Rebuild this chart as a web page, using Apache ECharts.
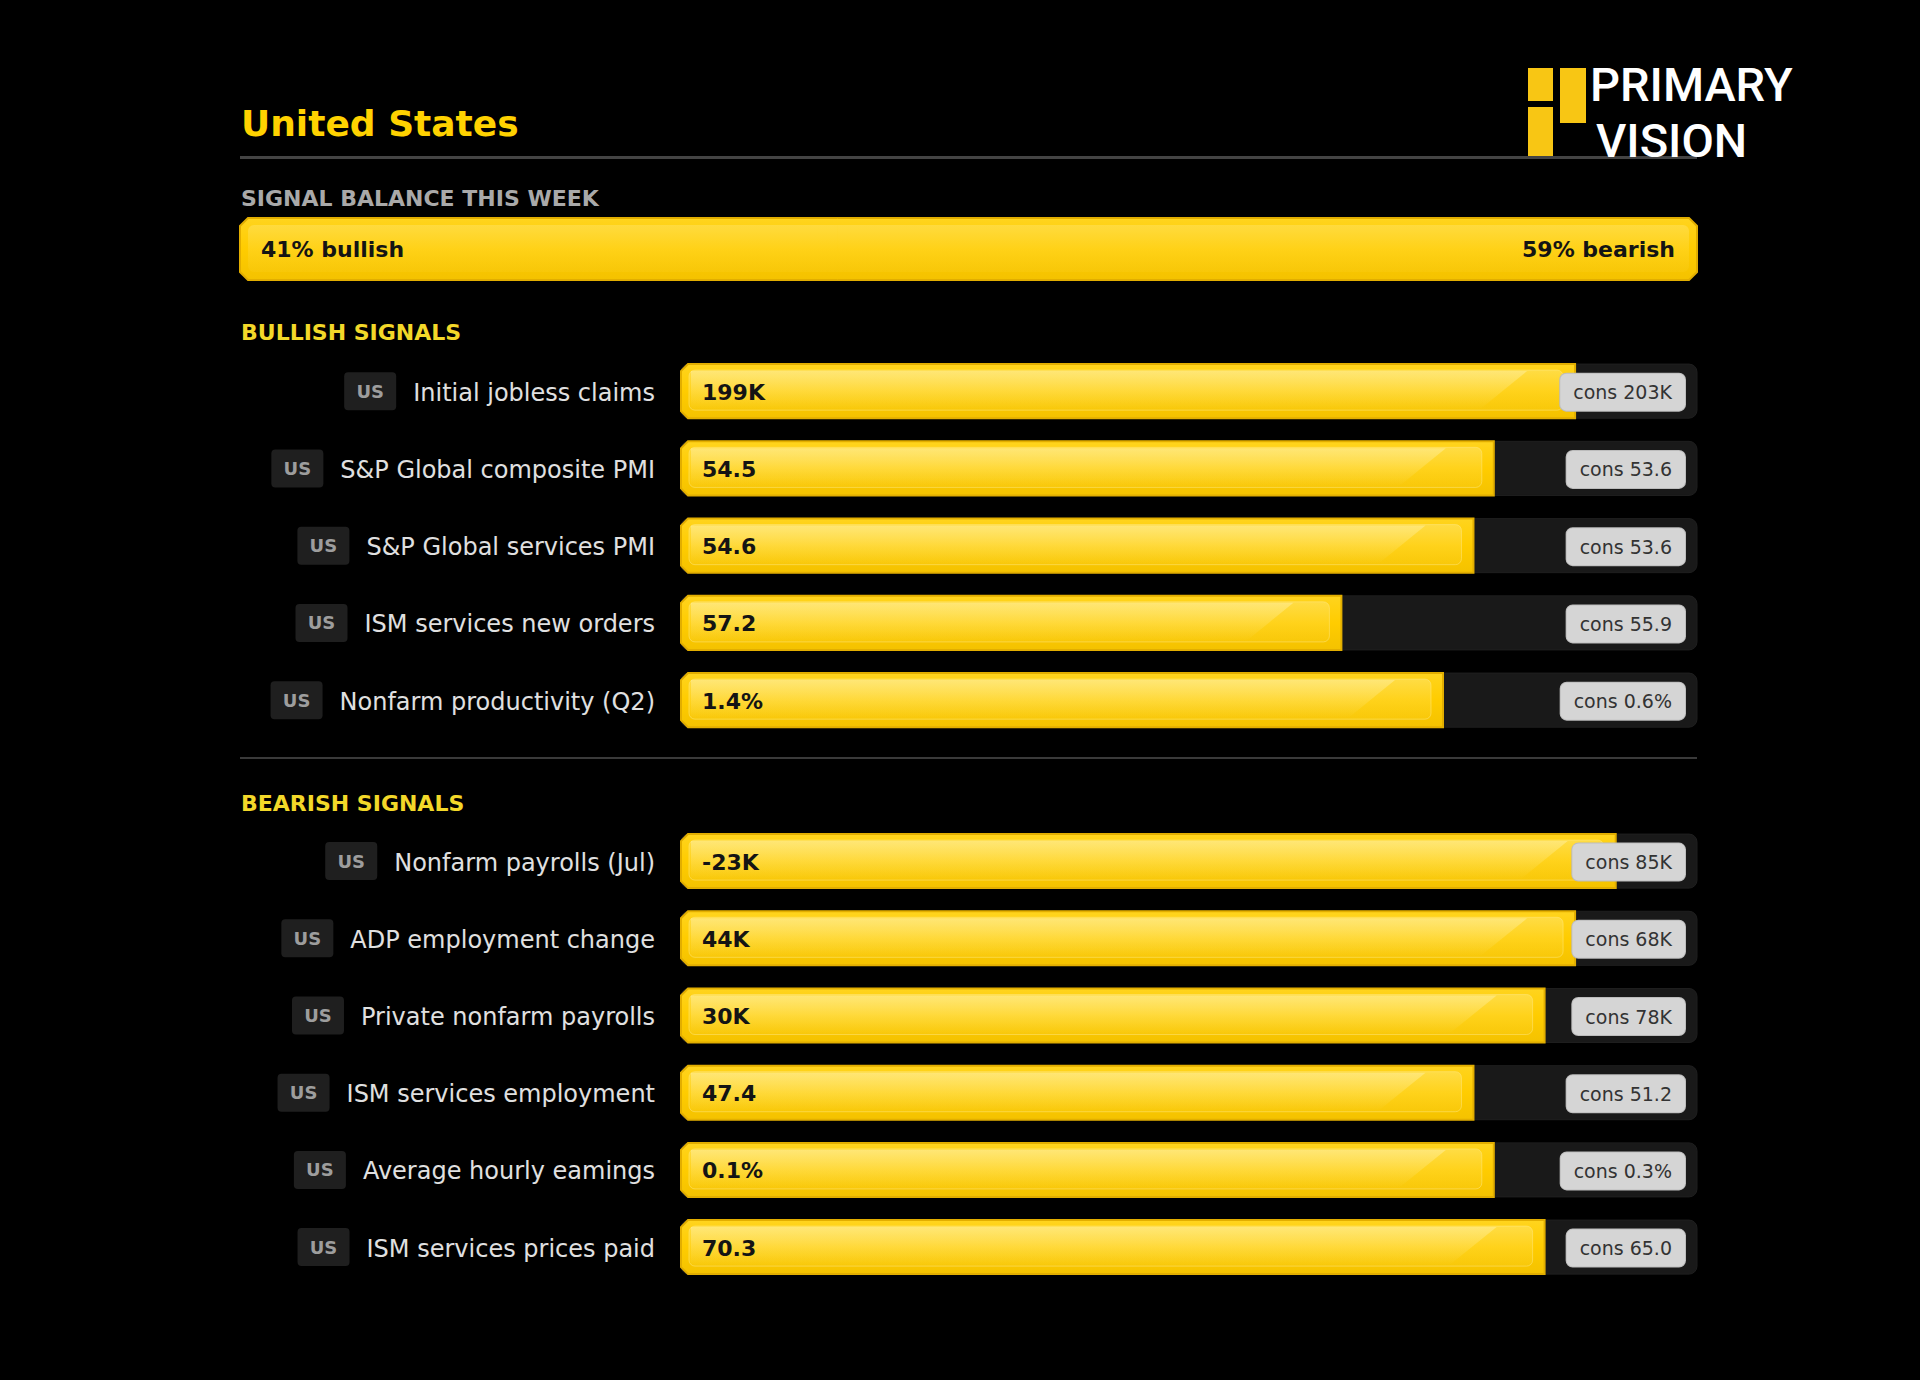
<!DOCTYPE html>
<html>
<head>
<meta charset="utf-8">
<script src="https://cdn.jsdelivr.net/npm/echarts@6/dist/echarts.min.js"></script>
<style>
html,body{margin:0;padding:0;background:#000;}
#chart{width:1920px;height:1380px;}
</style>
</head>
<body>
<div id="chart"></div>
<script>
// ---------- data ----------
const countryCode = 'US';
const balance = [41, 59];            // % bullish, % bearish
const balanceLabels = ['bullish', 'bearish'];

const bullLabels = ['Initial jobless claims', 'S&P Global composite PMI', 'S&P Global services PMI', 'ISM services new orders', 'Nonfarm productivity (Q2)'];
const bullActual = ['199K', '54.5', '54.6', '57.2', '1.4%'];
const bullCons = ['cons 203K', 'cons 53.6', 'cons 53.6', 'cons 55.9', 'cons 0.6%'];
const bullStrength = [88, 80, 78, 65, 75];

const bearLabels = ['Nonfarm payrolls (Jul)', 'ADP employment change', 'Private nonfarm payrolls', 'ISM services employment', 'Average hourly eamings', 'ISM services prices paid'];
const bearActual = ['-23K', '44K', '30K', '47.4', '0.1%', '70.3'];
const bearCons = ['cons 85K', 'cons 68K', 'cons 78K', 'cons 51.2', 'cons 0.3%', 'cons 65.0'];
const bearStrength = [92, 88, 85, 78, 80, 85];

// ---------- styling helpers ----------
const FONT = 'DejaVu Sans';
const yellowGrad = {type: 'linear', x: 0, y: 0, x2: 0, y2: 1, colorStops: [
  {offset: 0, color: '#FFD41E'}, {offset: 0.5, color: '#FFCC00'}, {offset: 1, color: '#F4C200'}]};
const innerGrad = {type: 'linear', x: 0, y: 0, x2: 0, y2: 1, colorStops: [
  {offset: 0, color: 'rgba(255,236,140,0.55)'}, {offset: 1, color: 'rgba(255,225,90,0.15)'}]};
const shineGrad = {type: 'linear', x: 0, y: 0, x2: 0, y2: 1, colorStops: [
  {offset: 0, color: 'rgba(255,250,210,0.35)'}, {offset: 1, color: 'rgba(255,250,210,0.0)'}]};

function makeSignalRender(actualArr, consArr) {
  return function (params, api) {
    const idx = api.value(0);
    const v = api.value(1);
    const band = api.size([0, 1])[1];
    const h = band * 0.7;
    const p0 = api.coord([0, idx]);
    const p1 = api.coord([v, idx]);
    const pm = api.coord([100, idx]);
    const x0 = p0[0], x1 = p1[0], xm = pm[0], yc = p0[1];
    const y0 = yc - h / 2, y1 = yc + h / 2;
    const c = 7;
    return {
      type: 'group',
      children: [
        {type: 'rect', shape: {x: x0, y: y0, width: xm - x0, height: h, r: 8},
          style: {fill: '#191919', stroke: '#1f1f1f', lineWidth: 1}},
        {type: 'polygon', shape: {points: [[x0 + c, y0], [x1, y0], [x1, y1], [x0 + c, y1], [x0, y1 - c], [x0, y0 + c]]},
          style: {fill: yellowGrad, stroke: '#E2AE00', lineWidth: 2}},
        {type: 'rect', shape: {x: x0 + 8, y: y0 + 6, width: Math.max(0, x1 - x0 - 20), height: h - 14, r: 6},
          style: {fill: innerGrad, stroke: 'rgba(255,232,130,0.7)', lineWidth: 1, opacity: 0.7}},
        {type: 'polygon', shape: {points: [[x0 + 10, y0 + 7], [x1 - 48, y0 + 7], [x1 - 95, y1 - 9], [x0 + 10, y1 - 9]]},
          style: {fill: shineGrad}},
        {type: 'text', style: {x: x0 + 21, y: yc + 1, text: actualArr[params.dataIndex], fill: '#141414',
          font: 'bold 22px "' + FONT + '"', align: 'left', verticalAlign: 'middle'}},
        {type: 'text', style: {x: xm - 12, y: yc + 1, text: consArr[params.dataIndex], fill: '#333',
          font: '19px "' + FONT + '"', align: 'right', verticalAlign: 'middle', lineHeight: 19,
          backgroundColor: '#d5d5d5', borderColor: '#bcbcbc', borderWidth: 1, borderRadius: 6, padding: [9, 13, 9, 13]}}
      ]
    };
  };
}

function renderBalance(params, api) {
  const i = params.dataIndex;
  const s = api.value(1), e = api.value(2);
  const band = api.size([0, 1])[1];
  const h = band;
  const ps = api.coord([s, 0]), pe = api.coord([e, 0]);
  const xs = ps[0], xe = pe[0], yc = ps[1];
  const y0 = yc - h / 2, y1 = yc + h / 2;
  const c = 8;
  let pts, edge, inner, txt;
  if (i === 0) {
    const xo = xe + 2; // overlap into next segment to avoid a seam
    pts = [[xs + c, y0], [xo, y0], [xo, y1], [xs + c, y1], [xs, y1 - c], [xs, y0 + c]];
    edge = [[xo, y0], [xs + c, y0], [xs, y0 + c], [xs, y1 - c], [xs + c, y1], [xo, y1]];
    inner = {x: xs + 8, y: y0 + 7, width: xo - xs - 8, height: h - 15, r: [6, 0, 0, 6]};
    txt = {x: xs + 21, y: yc, text: balance[i] + '% ' + balanceLabels[i], align: 'left'};
  } else {
    pts = [[xs, y0], [xe - c, y0], [xe, y0 + c], [xe, y1 - c], [xe - c, y1], [xs, y1]];
    edge = [[xs, y0], [xe - c, y0], [xe, y0 + c], [xe, y1 - c], [xe - c, y1], [xs, y1]];
    inner = {x: xs, y: y0 + 7, width: xe - xs - 8, height: h - 15, r: [0, 6, 6, 0]};
    txt = {x: xe - 22, y: yc, text: balance[i] + '% ' + balanceLabels[i], align: 'right'};
  }
  return {
    type: 'group',
    children: [
      {type: 'polygon', shape: {points: pts}, style: {fill: yellowGrad}},
      {type: 'polyline', shape: {points: edge}, style: {stroke: '#E2AE00', lineWidth: 2, fill: null}},
      {type: 'rect', shape: inner, style: {fill: innerGrad, opacity: 0.6}},
      {type: 'text', style: {x: txt.x, y: txt.y, text: txt.text, fill: '#141414',
        font: 'bold 22px "' + FONT + '"', align: txt.align, verticalAlign: 'middle'}}
    ]
  };
}

function catAxis(gridIndex, labels) {
  return {
    type: 'category', gridIndex: gridIndex, data: labels, inverse: true,
    axisLine: {show: false}, axisTick: {show: false}, splitLine: {show: false},
    axisLabel: {
      margin: 26,
      formatter: function (v) { return '{us|' + countryCode + '}{lbl|' + v + '}'; },
      rich: {
        us: {width: 52, height: 38, lineHeight: 38, align: 'center', backgroundColor: '#1f1f1f', borderRadius: 4,
          color: '#9d9d9d', fontWeight: 'bold', fontSize: 18, fontFamily: FONT},
        lbl: {fontSize: 24, color: '#e0e0e0', fontFamily: FONT, padding: [3, 0, 0, 17]}
      }
    }
  };
}
function valAxis(gridIndex) {
  return {type: 'value', gridIndex: gridIndex, min: 0, max: 100, show: false, splitLine: {show: false}};
}

const chart = echarts.init(document.getElementById('chart'), null, {renderer: 'svg'});
const option = {
  backgroundColor: '#000',
  animation: false,
  grid: [
    {left: 240, right: 223, top: 218, height: 62},
    {left: 681, right: 223, top: 352.5, height: 386.25},
    {left: 681, right: 223, top: 822.5, height: 463.2}
  ],
  xAxis: [valAxis(0), valAxis(1), valAxis(2)],
  yAxis: [
    {type: 'category', gridIndex: 0, data: ['balance'], show: false},
    catAxis(1, bullLabels),
    catAxis(2, bearLabels)
  ],
  series: [
    {type: 'custom', xAxisIndex: 0, yAxisIndex: 0, renderItem: renderBalance,
      encode: {x: [1, 2], y: 0},
      data: [[0, 0, balance[0]], [0, balance[0], balance[0] + balance[1]]]},
    {type: 'custom', xAxisIndex: 1, yAxisIndex: 1, renderItem: makeSignalRender(bullActual, bullCons),
      encode: {x: 1, y: 0}, data: bullStrength.map((v, i) => [i, v])},
    {type: 'custom', xAxisIndex: 2, yAxisIndex: 2, renderItem: makeSignalRender(bearActual, bearCons),
      encode: {x: 1, y: 0}, data: bearStrength.map((v, i) => [i, v])}
  ],
  graphic: [
    {type: 'text', left: 241, top: 105, style: {text: 'United States', fill: '#FFD200', font: 'bold 36px "' + FONT + '"'}},
    {type: 'line', shape: {x1: 240, y1: 157.5, x2: 1697, y2: 157.5}, style: {stroke: '#444', lineWidth: 3}},
    {type: 'text', left: 241, top: 187, style: {text: 'SIGNAL BALANCE THIS WEEK', fill: '#a9a9a9', font: 'bold 22px "' + FONT + '"'}},
    {type: 'text', left: 241, top: 321, style: {text: 'BULLISH SIGNALS', fill: '#F3D829', font: 'bold 22px "' + FONT + '"'}},
    {type: 'line', shape: {x1: 240, y1: 758, x2: 1697, y2: 758}, style: {stroke: '#3a3a3a', lineWidth: 2}},
    {type: 'text', left: 241, top: 792, style: {text: 'BEARISH SIGNALS', fill: '#F3D829', font: 'bold 22px "' + FONT + '"'}},
    // logo
    {type: 'rect', shape: {x: 1528, y: 68, width: 25, height: 33}, style: {fill: '#F8C614'}},
    {type: 'rect', shape: {x: 1528, y: 107, width: 25, height: 49}, style: {fill: '#F8C614'}},
    {type: 'rect', shape: {x: 1560, y: 68, width: 26, height: 55}, style: {fill: '#F8C614'}},
    {type: 'text', left: 1590, top: 61, style: {
      text: '{a|PRIMARY}\n{b|VISION}',
      rich: {
        a: {fill: '#fff', fontFamily: 'Roboto', fontWeight: 500, fontSize: 47, lineHeight: 56},
        b: {fill: '#fff', fontFamily: 'Roboto', fontWeight: 500, fontSize: 47, lineHeight: 56, padding: [0, 0, 0, 6]}
      }}}
  ]
};
chart.setOption(option);
</script>
</body>
</html>
